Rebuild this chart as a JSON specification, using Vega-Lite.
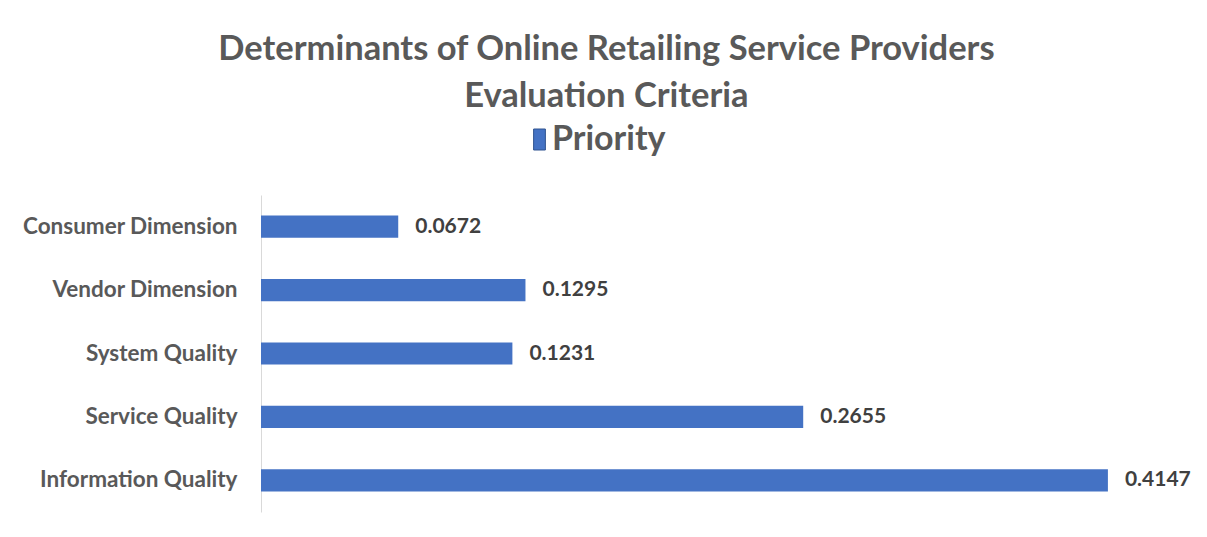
{
  "$schema": "https://vega.github.io/schema/vega-lite/v6.json",
  "width": 919,
  "height": 317,
  "autosize": "none",
  "padding": {"left": 261, "top": 195, "right": 27, "bottom": 25},
  "background": "white",
  "title": {
    "text": ["Determinants of Online Retailing Service Providers", "Evaluation Criteria"],
    "anchor": "middle",
    "frame": "bounds",
    "font": "Lato",
    "fontSize": 34.5,
    "fontWeight": "bold",
    "color": "#595959",
    "lineHeight": 47,
    "offset": 4
  },
  "data": {
    "values": [
      {"criterion": "Consumer Dimension", "priority": 0.0672, "series": "Priority"},
      {"criterion": "Vendor Dimension", "priority": 0.1295, "series": "Priority"},
      {"criterion": "System Quality", "priority": 0.1231, "series": "Priority"},
      {"criterion": "Service Quality", "priority": 0.2655, "series": "Priority"},
      {"criterion": "Information Quality", "priority": 0.4147, "series": "Priority"}
    ]
  },
  "encoding": {
    "y": {
      "field": "criterion",
      "type": "nominal",
      "sort": null,
      "scale": {"paddingInner": 0.65, "paddingOuter": 0.325},
      "axis": {
        "title": null,
        "domainColor": "#d9d9d9",
        "domainWidth": 1,
        "ticks": false,
        "labelFont": "Lato",
        "labelFontSize": 22.5,
        "labelFontWeight": "bold",
        "labelColor": "#595959",
        "labelPadding": 24,
        "labelLimit": 400
      }
    },
    "x": {
      "field": "priority",
      "type": "quantitative",
      "scale": {"domain": [0, 0.45]},
      "axis": null
    }
  },
  "layer": [
    {
      "mark": {"type": "bar"},
      "encoding": {
        "color": {
          "field": "series",
          "type": "nominal",
          "scale": {"range": ["#4472C4"]},
          "legend": {
            "title": null,
            "orient": "none",
            "legendX": 257,
            "legendY": -77,
            "symbolType": "M-0.28,-0.5H0.28V0.5H-0.28Z",
            "symbolSize": 1764,
            "symbolStrokeColor": "#2F528F",
            "symbolStrokeWidth": 1,
            "symbolOpacity": 1,
            "labelFont": "Lato",
            "labelFontSize": 34,
            "labelFontWeight": "bold",
            "labelColor": "#595959",
            "labelOffset": -9,
            "labelLimit": 400
          }
        }
      }
    },
    {
      "mark": {
        "type": "text",
        "align": "left",
        "dx": 17,
        "font": "Lato",
        "fontSize": 21,
        "fontWeight": "bold",
        "color": "#404040"
      },
      "encoding": {
        "text": {"field": "priority", "type": "quantitative", "format": ".4f"}
      }
    }
  ],
  "config": {"view": {"stroke": null}}
}
